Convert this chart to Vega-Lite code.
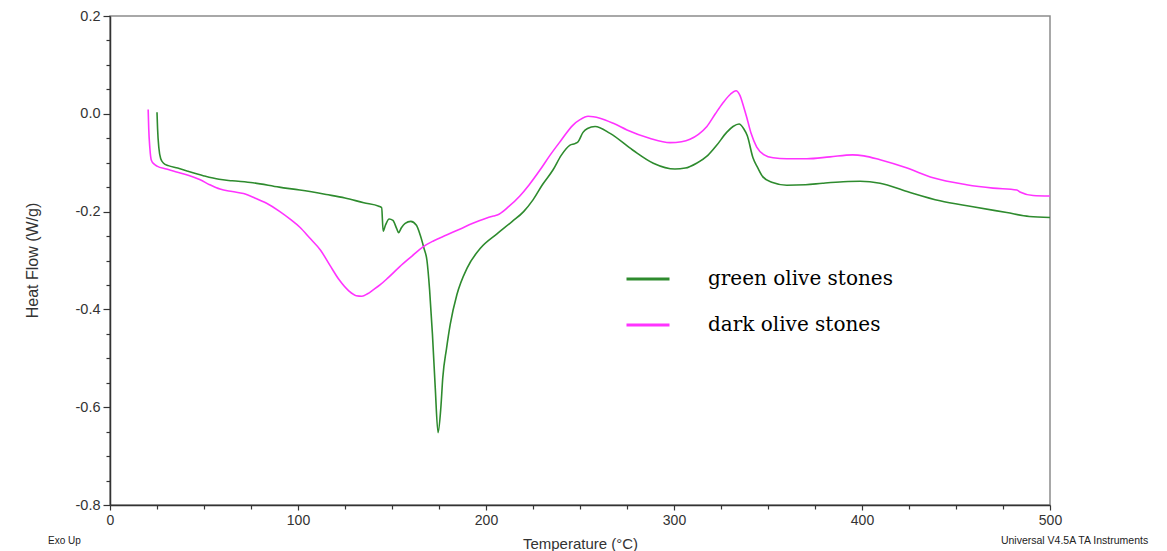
{
  "$schema": "https://vega.github.io/schema/vega-lite/v6.json",
  "width": 940,
  "height": 489,
  "autosize": {"type": "none"},
  "padding": {"left": 110, "top": 16, "right": 117, "bottom": 46},
  "background": "white",
  "config": {
    "view": {"stroke": "#8c8c8c", "strokeWidth": 1.5},
    "font": "Liberation Sans"
  },
  "title": {
    "text": "Exo Up",
    "orient": "bottom",
    "anchor": "start",
    "frame": "group",
    "font": "Liberation Sans",
    "fontSize": 10,
    "fontWeight": "normal",
    "color": "#222222",
    "dx": -62,
    "dy": -19
  },
  "data": {
    "values": [
      {"Series": "green olive stones", "T": 25, "HF": 0.003},
      {"Series": "green olive stones", "T": 25.3, "HF": -0.03},
      {"Series": "green olive stones", "T": 26, "HF": -0.07},
      {"Series": "green olive stones", "T": 27, "HF": -0.092},
      {"Series": "green olive stones", "T": 28.5, "HF": -0.101},
      {"Series": "green olive stones", "T": 31, "HF": -0.106},
      {"Series": "green olive stones", "T": 36, "HF": -0.111},
      {"Series": "green olive stones", "T": 41, "HF": -0.117},
      {"Series": "green olive stones", "T": 50, "HF": -0.127},
      {"Series": "green olive stones", "T": 58, "HF": -0.134},
      {"Series": "green olive stones", "T": 65, "HF": -0.137},
      {"Series": "green olive stones", "T": 76, "HF": -0.141},
      {"Series": "green olive stones", "T": 90, "HF": -0.15},
      {"Series": "green olive stones", "T": 101, "HF": -0.156},
      {"Series": "green olive stones", "T": 115, "HF": -0.165},
      {"Series": "green olive stones", "T": 125, "HF": -0.172},
      {"Series": "green olive stones", "T": 135, "HF": -0.182},
      {"Series": "green olive stones", "T": 143, "HF": -0.189},
      {"Series": "green olive stones", "T": 144.5, "HF": -0.192},
      {"Series": "green olive stones", "T": 145.3, "HF": -0.24},
      {"Series": "green olive stones", "T": 146.5, "HF": -0.228},
      {"Series": "green olive stones", "T": 148.5, "HF": -0.215},
      {"Series": "green olive stones", "T": 150.5, "HF": -0.218},
      {"Series": "green olive stones", "T": 152.5, "HF": -0.235},
      {"Series": "green olive stones", "T": 153.5, "HF": -0.243},
      {"Series": "green olive stones", "T": 155, "HF": -0.233},
      {"Series": "green olive stones", "T": 157, "HF": -0.224},
      {"Series": "green olive stones", "T": 160, "HF": -0.22},
      {"Series": "green olive stones", "T": 163, "HF": -0.228},
      {"Series": "green olive stones", "T": 165, "HF": -0.248},
      {"Series": "green olive stones", "T": 167, "HF": -0.275},
      {"Series": "green olive stones", "T": 168.6, "HF": -0.3},
      {"Series": "green olive stones", "T": 170, "HF": -0.36},
      {"Series": "green olive stones", "T": 171.5, "HF": -0.45},
      {"Series": "green olive stones", "T": 173, "HF": -0.56},
      {"Series": "green olive stones", "T": 174.5, "HF": -0.652},
      {"Series": "green olive stones", "T": 176, "HF": -0.6},
      {"Series": "green olive stones", "T": 177, "HF": -0.54},
      {"Series": "green olive stones", "T": 179, "HF": -0.48},
      {"Series": "green olive stones", "T": 181, "HF": -0.43},
      {"Series": "green olive stones", "T": 184.5, "HF": -0.37},
      {"Series": "green olive stones", "T": 190, "HF": -0.315},
      {"Series": "green olive stones", "T": 197, "HF": -0.275},
      {"Series": "green olive stones", "T": 206, "HF": -0.245},
      {"Series": "green olive stones", "T": 214, "HF": -0.22},
      {"Series": "green olive stones", "T": 220, "HF": -0.2},
      {"Series": "green olive stones", "T": 225, "HF": -0.176},
      {"Series": "green olive stones", "T": 230, "HF": -0.145},
      {"Series": "green olive stones", "T": 235.6, "HF": -0.115},
      {"Series": "green olive stones", "T": 240, "HF": -0.085},
      {"Series": "green olive stones", "T": 244.7, "HF": -0.064},
      {"Series": "green olive stones", "T": 247.3, "HF": -0.061},
      {"Series": "green olive stones", "T": 249, "HF": -0.057},
      {"Series": "green olive stones", "T": 251.6, "HF": -0.038},
      {"Series": "green olive stones", "T": 254, "HF": -0.03},
      {"Series": "green olive stones", "T": 258, "HF": -0.026},
      {"Series": "green olive stones", "T": 266, "HF": -0.04},
      {"Series": "green olive stones", "T": 278, "HF": -0.074},
      {"Series": "green olive stones", "T": 289, "HF": -0.101},
      {"Series": "green olive stones", "T": 300.5, "HF": -0.113},
      {"Series": "green olive stones", "T": 306, "HF": -0.111},
      {"Series": "green olive stones", "T": 312, "HF": -0.101},
      {"Series": "green olive stones", "T": 318, "HF": -0.085},
      {"Series": "green olive stones", "T": 322.8, "HF": -0.064},
      {"Series": "green olive stones", "T": 328, "HF": -0.038},
      {"Series": "green olive stones", "T": 331.4, "HF": -0.026},
      {"Series": "green olive stones", "T": 334.6, "HF": -0.021},
      {"Series": "green olive stones", "T": 337, "HF": -0.03},
      {"Series": "green olive stones", "T": 339, "HF": -0.045},
      {"Series": "green olive stones", "T": 342, "HF": -0.09},
      {"Series": "green olive stones", "T": 344.5, "HF": -0.11},
      {"Series": "green olive stones", "T": 347.3, "HF": -0.129},
      {"Series": "green olive stones", "T": 352, "HF": -0.14},
      {"Series": "green olive stones", "T": 360, "HF": -0.146},
      {"Series": "green olive stones", "T": 370, "HF": -0.145},
      {"Series": "green olive stones", "T": 379, "HF": -0.142},
      {"Series": "green olive stones", "T": 390, "HF": -0.139},
      {"Series": "green olive stones", "T": 399, "HF": -0.138},
      {"Series": "green olive stones", "T": 409.6, "HF": -0.142},
      {"Series": "green olive stones", "T": 424, "HF": -0.159},
      {"Series": "green olive stones", "T": 441.5, "HF": -0.178},
      {"Series": "green olive stones", "T": 459, "HF": -0.19},
      {"Series": "green olive stones", "T": 477, "HF": -0.202},
      {"Series": "green olive stones", "T": 489, "HF": -0.21},
      {"Series": "green olive stones", "T": 500, "HF": -0.212},
      {"Series": "dark olive stones", "T": 20.3, "HF": 0.009},
      {"Series": "dark olive stones", "T": 20.6, "HF": -0.03},
      {"Series": "dark olive stones", "T": 21.2, "HF": -0.07},
      {"Series": "dark olive stones", "T": 22, "HF": -0.095},
      {"Series": "dark olive stones", "T": 23.5, "HF": -0.103},
      {"Series": "dark olive stones", "T": 25, "HF": -0.107},
      {"Series": "dark olive stones", "T": 30, "HF": -0.113},
      {"Series": "dark olive stones", "T": 35.4, "HF": -0.119},
      {"Series": "dark olive stones", "T": 42, "HF": -0.126},
      {"Series": "dark olive stones", "T": 48, "HF": -0.135},
      {"Series": "dark olive stones", "T": 53, "HF": -0.145},
      {"Series": "dark olive stones", "T": 58.5, "HF": -0.154},
      {"Series": "dark olive stones", "T": 65, "HF": -0.159},
      {"Series": "dark olive stones", "T": 71, "HF": -0.163},
      {"Series": "dark olive stones", "T": 77, "HF": -0.172},
      {"Series": "dark olive stones", "T": 83.3, "HF": -0.183},
      {"Series": "dark olive stones", "T": 90, "HF": -0.199},
      {"Series": "dark olive stones", "T": 96, "HF": -0.216},
      {"Series": "dark olive stones", "T": 101, "HF": -0.232},
      {"Series": "dark olive stones", "T": 106, "HF": -0.253},
      {"Series": "dark olive stones", "T": 112, "HF": -0.279},
      {"Series": "dark olive stones", "T": 117, "HF": -0.31},
      {"Series": "dark olive stones", "T": 122, "HF": -0.34},
      {"Series": "dark olive stones", "T": 127, "HF": -0.362},
      {"Series": "dark olive stones", "T": 131, "HF": -0.372},
      {"Series": "dark olive stones", "T": 134, "HF": -0.373},
      {"Series": "dark olive stones", "T": 137, "HF": -0.368},
      {"Series": "dark olive stones", "T": 140, "HF": -0.36},
      {"Series": "dark olive stones", "T": 143.6, "HF": -0.35},
      {"Series": "dark olive stones", "T": 148, "HF": -0.335},
      {"Series": "dark olive stones", "T": 154, "HF": -0.313},
      {"Series": "dark olive stones", "T": 160, "HF": -0.293},
      {"Series": "dark olive stones", "T": 166.5, "HF": -0.272},
      {"Series": "dark olive stones", "T": 172, "HF": -0.26},
      {"Series": "dark olive stones", "T": 179, "HF": -0.248},
      {"Series": "dark olive stones", "T": 186, "HF": -0.236},
      {"Series": "dark olive stones", "T": 193, "HF": -0.224},
      {"Series": "dark olive stones", "T": 199, "HF": -0.215},
      {"Series": "dark olive stones", "T": 204, "HF": -0.209},
      {"Series": "dark olive stones", "T": 206, "HF": -0.207},
      {"Series": "dark olive stones", "T": 212, "HF": -0.19},
      {"Series": "dark olive stones", "T": 218, "HF": -0.168},
      {"Series": "dark olive stones", "T": 223, "HF": -0.145},
      {"Series": "dark olive stones", "T": 228.7, "HF": -0.115},
      {"Series": "dark olive stones", "T": 234, "HF": -0.085},
      {"Series": "dark olive stones", "T": 239.4, "HF": -0.057},
      {"Series": "dark olive stones", "T": 246.3, "HF": -0.023},
      {"Series": "dark olive stones", "T": 250, "HF": -0.012},
      {"Series": "dark olive stones", "T": 254.3, "HF": -0.005},
      {"Series": "dark olive stones", "T": 260.6, "HF": -0.009},
      {"Series": "dark olive stones", "T": 268, "HF": -0.02},
      {"Series": "dark olive stones", "T": 275, "HF": -0.033},
      {"Series": "dark olive stones", "T": 287, "HF": -0.05},
      {"Series": "dark olive stones", "T": 297.9, "HF": -0.059},
      {"Series": "dark olive stones", "T": 304, "HF": -0.057},
      {"Series": "dark olive stones", "T": 308.5, "HF": -0.052},
      {"Series": "dark olive stones", "T": 313, "HF": -0.042},
      {"Series": "dark olive stones", "T": 317.5, "HF": -0.026},
      {"Series": "dark olive stones", "T": 322, "HF": 0.0},
      {"Series": "dark olive stones", "T": 326, "HF": 0.022},
      {"Series": "dark olive stones", "T": 330, "HF": 0.04},
      {"Series": "dark olive stones", "T": 333, "HF": 0.047},
      {"Series": "dark olive stones", "T": 335, "HF": 0.038},
      {"Series": "dark olive stones", "T": 337, "HF": 0.015},
      {"Series": "dark olive stones", "T": 338.6, "HF": -0.006},
      {"Series": "dark olive stones", "T": 341, "HF": -0.04},
      {"Series": "dark olive stones", "T": 344, "HF": -0.068},
      {"Series": "dark olive stones", "T": 348, "HF": -0.084},
      {"Series": "dark olive stones", "T": 352.7, "HF": -0.09},
      {"Series": "dark olive stones", "T": 360, "HF": -0.092},
      {"Series": "dark olive stones", "T": 370.7, "HF": -0.092},
      {"Series": "dark olive stones", "T": 383, "HF": -0.088},
      {"Series": "dark olive stones", "T": 395, "HF": -0.084},
      {"Series": "dark olive stones", "T": 401, "HF": -0.086},
      {"Series": "dark olive stones", "T": 409.6, "HF": -0.094},
      {"Series": "dark olive stones", "T": 424, "HF": -0.111},
      {"Series": "dark olive stones", "T": 437.8, "HF": -0.131},
      {"Series": "dark olive stones", "T": 455.6, "HF": -0.145},
      {"Series": "dark olive stones", "T": 469.7, "HF": -0.152},
      {"Series": "dark olive stones", "T": 482.4, "HF": -0.156},
      {"Series": "dark olive stones", "T": 484, "HF": -0.16},
      {"Series": "dark olive stones", "T": 491, "HF": -0.167},
      {"Series": "dark olive stones", "T": 500, "HF": -0.168}
    ]
  },
  "layer": [
    {
      "mark": {"type": "line", "strokeWidth": 1.6, "interpolate": "monotone"},
      "encoding": {
        "x": {
          "field": "T",
          "type": "quantitative",
          "scale": {"domain": [0, 500], "nice": false, "zero": false},
          "axis": {
            "values": [0, 25, 50, 75, 100, 125, 150, 175, 200, 225, 250, 275, 300, 325, 350, 375, 400, 425, 450, 475, 500],
            "labelExpr": "datum.value % 100 == 0 ? datum.label : ''",
            "labelFlush": false,
            "grid": false,
            "domainColor": "#333333",
            "domainWidth": 1.5,
            "tickColor": "#333333",
            "tickWidth": 1.2,
            "tickSize": {"condition": {"test": "datum.value % 100 == 0", "value": 5}, "value": 4},
            "labelFontSize": 14,
            "labelColor": "#333333",
            "labelPadding": 3,
            "title": "Temperature (°C)",
            "titleFontSize": 15,
            "titleFontWeight": "normal",
            "titleColor": "#333333",
            "titleX": 470,
            "titleY": 38,
            "titleBaseline": "middle",
            "titleAnchor": null
          }
        },
        "y": {
          "field": "HF",
          "type": "quantitative",
          "scale": {"domain": [-0.8, 0.2], "nice": false, "zero": false},
          "axis": {
            "values": [-0.8, -0.75, -0.7, -0.65, -0.6, -0.55, -0.5, -0.45, -0.4, -0.35, -0.3, -0.25, -0.2, -0.15, -0.1, -0.05, 0, 0.05, 0.1, 0.15, 0.2],
            "labelExpr": "abs(datum.value * 5 - round(datum.value * 5)) < 0.001 ? replace(format(datum.value, '.1f'), '−', '-') : ''",
            "labelFlush": false,
            "grid": false,
            "domainColor": "#333333",
            "domainWidth": 1.5,
            "tickColor": "#333333",
            "tickWidth": 1.2,
            "tickSize": {"condition": {"test": "abs(datum.value * 5 - round(datum.value * 5)) < 0.001", "value": 7}, "value": 4},
            "labelFontSize": 14.5,
            "labelColor": "#333333",
            "labelPadding": 3,
            "title": "Heat Flow (W/g)",
            "titleFontSize": 16,
            "titleFontWeight": "normal",
            "titleColor": "#333333",
            "titleX": -78,
            "titleY": 244,
            "titleAngle": -90,
            "titleAlign": "center",
            "titleBaseline": "middle",
            "titleAnchor": null
          }
        },
        "color": {
          "field": "Series",
          "type": "nominal",
          "scale": {"domain": ["green olive stones", "dark olive stones"], "range": ["#2e8b2e", "#ff33ff"]},
          "legend": {
            "title": null,
            "orient": "none",
            "legendX": 515,
            "legendY": 240,
            "padding": 0,
            "symbolType": "stroke",
            "symbolSize": 1849,
            "symbolStrokeWidth": 3,
            "labelFont": "DejaVu Serif",
            "labelFontSize": 20,
            "labelColor": "#000000",
            "labelOffset": 37,
            "rowPadding": 13,
            "labelLimit": 400
          }
        }
      }
    },
    {
      "mark": {"type": "rule", "strokeOpacity": 0},
      "encoding": {
        "y": {
          "datum": -0.8,
          "type": "quantitative",
          "scale": {"domain": [-0.8, 0.2], "nice": false, "zero": false},
          "axis": {
            "orient": "right",
            "domain": false,
            "ticks": false,
            "labels": false,
            "grid": false,
            "title": "Universal V4.5A TA Instruments",
            "titleAngle": 0,
            "titleX": 24,
            "titleY": 524,
            "titleAlign": "center",
            "titleBaseline": "middle",
            "titleFontSize": 10.5,
            "titleFontWeight": "normal",
            "titleColor": "#222222",
            "titleAnchor": null
          }
        }
      }
    }
  ],
  "resolve": {"scale": {"y": "independent"}, "axis": {"y": "independent"}}
}
